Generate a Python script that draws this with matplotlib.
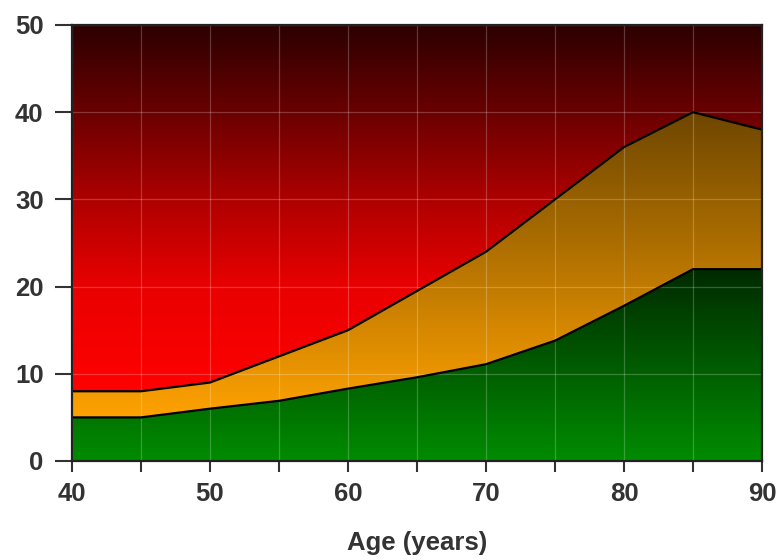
import numpy as np
import matplotlib
matplotlib.use("Agg")
import matplotlib.pyplot as plt
from matplotlib.colors import LinearSegmentedColormap

# values
ages = [40, 45, 50, 55, 60, 65, 70, 75, 80, 85, 90]
lower = [5, 5, 6, 6.9, 8.3, 9.6, 11.1, 13.8, 17.8, 22, 22]
upper = [8, 8, 9, 12, 15, 19.5, 24, 30, 36, 40, 38]
ymax = 50

plt.rcParams['font.family'] = ['Liberation Sans', 'DejaVu Sans']

fig = plt.figure(figsize=(7.84, 5.6), dpi=100)
ax = fig.add_axes([72 / 784, 99 / 560, 690 / 784, 436 / 560])


def gradient_band(lo, hi, colors, y0, y1):
    poly = ax.fill_between(ages, lo, hi, facecolor='none', edgecolor='none')
    cmap = LinearSegmentedColormap.from_list('g', colors)
    grad = np.linspace(0, 1, 256).reshape(-1, 1)
    im = ax.imshow(grad, cmap=cmap, aspect='auto', origin='lower',
                   extent=[ages[0], ages[-1], y0, y1],
                   interpolation='bicubic', zorder=1)
    im.set_clip_path(poly.get_paths()[0], ax.transData)


gradient_band([0] * len(ages), lower, ['#008c00', '#002a00'], 0, max(lower))
gradient_band(lower, upper, ['#ffa200', '#6e4600'], min(lower), max(upper))
gradient_band(upper, [ymax] * len(ages),
              [(0, '#ff0000'), (0.28, '#ea0000'), (0.52, '#ae0000'),
               (0.76, '#6a0000'), (1, '#2c0000')],
              min(upper), ymax)

ax.plot(ages, lower, color='black', lw=1.6, zorder=3)
ax.plot(ages, upper, color='black', lw=1.6, zorder=3)

ax.set_xlim(40, 90)
ax.set_ylim(0, ymax)
ax.set_xticks([40, 50, 60, 70, 80, 90])
ax.set_xticks([45, 55, 65, 75, 85], minor=True)
ax.set_yticks([0, 10, 20, 30, 40, 50])

ax.set_axisbelow(False)
ax.grid(True, which='both', color='white', alpha=0.22, lw=0.9)
ax.grid(False, which='minor', axis='y')

for s in ax.spines.values():
    s.set_color('#222222')
    s.set_linewidth(1.6)
    s.set_zorder(4)

ax.tick_params(axis='both', which='both', direction='out', width=1.5,
               color='#333333', labelsize=18.5, labelcolor='#333333')
ax.tick_params(axis='x', which='both', length=8, pad=7)
ax.tick_params(axis='y', which='both', length=12, pad=8.5)
for lab in ax.get_xticklabels() + ax.get_yticklabels():
    lab.set_fontweight('bold')

ax.set_xlabel('Age (years)', fontsize=18.5, fontweight='bold',
              color='#333333', labelpad=18)

fig.savefig('out.png', dpi=100)
